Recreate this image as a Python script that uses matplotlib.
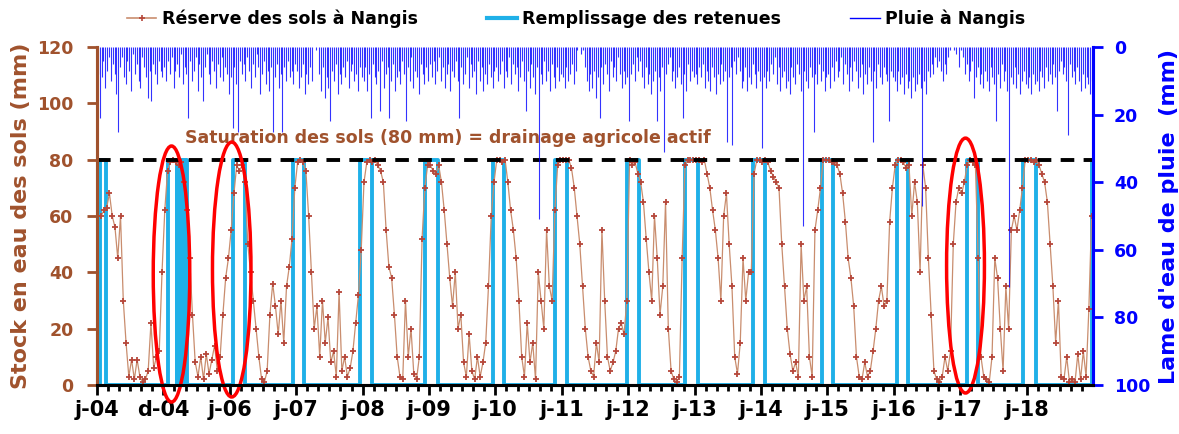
import numpy as np
import matplotlib
matplotlib.use('Agg')
import matplotlib.pyplot as plt
from matplotlib.patches import Ellipse
from matplotlib.lines import Line2D

plt.rcParams['font.family'] = ['DejaVu Sans']
plt.rcParams['font.weight'] = 'bold'

annees = list(range(2004, 2019))
etiquettes_x = ['j-04', 'd-04', 'j-06', 'j-07', 'j-08', 'j-09', 'j-10', 'j-11',
                'j-12', 'j-13', 'j-14', 'j-15', 'j-16', 'j-17', 'j-18']

# Reserve des sols a Nangis (mm) - 2 valeurs par mois
res_2004 = [60, 60, 62, 63, 68, 60, 56, 45, 60, 30, 15, 3, 9, 2, 9, 3, 1, 2, 5, 22, 6, 10, 12, 40]
res_2005 = [62, 76, 79, 80, 79, 78, 79, 72, 62, 45, 25, 8, 3, 10, 2, 11, 4, 9, 14, 5, 10, 25, 38, 45]
res_2006 = [55, 68, 78, 76, 78, 72, 50, 40, 30, 20, 10, 2, 1, 5, 25, 36, 28, 18, 30, 15, 35, 42, 52, 70]
res_2007 = [79, 80, 79, 76, 60, 40, 20, 28, 10, 30, 15, 24, 8, 12, 3, 33, 5, 10, 3, 6, 12, 22, 32, 48]
res_2008 = [72, 79, 80, 79, 80, 78, 76, 72, 55, 42, 38, 25, 10, 3, 2, 30, 10, 20, 4, 2, 10, 52, 70, 78]
res_2009 = [78, 76, 75, 78, 72, 62, 50, 38, 28, 40, 20, 25, 8, 3, 18, 5, 2, 10, 3, 8, 15, 35, 60, 72]
res_2010 = [80, 80, 79, 80, 72, 62, 55, 45, 30, 10, 3, 22, 8, 15, 2, 40, 30, 20, 55, 35, 30, 62, 78, 80]
res_2011 = [80, 80, 80, 77, 70, 60, 50, 35, 20, 10, 5, 3, 15, 8, 55, 30, 10, 5, 8, 12, 20, 22, 18, 30]
res_2012 = [80, 78, 79, 75, 72, 65, 52, 40, 30, 60, 45, 25, 35, 65, 20, 5, 2, 1, 3, 45, 78, 80, 80, 80]
res_2013 = [80, 80, 79, 80, 75, 70, 62, 55, 45, 30, 60, 68, 50, 35, 10, 4, 15, 45, 30, 40, 40, 75, 80, 80]
res_2014 = [79, 80, 79, 76, 74, 72, 70, 50, 35, 20, 11, 5, 8, 3, 50, 30, 35, 10, 3, 55, 62, 70, 80, 80]
res_2015 = [80, 79, 79, 78, 75, 68, 58, 45, 38, 28, 10, 3, 2, 8, 3, 5, 12, 20, 30, 35, 28, 30, 58, 70]
res_2016 = [78, 80, 80, 79, 77, 78, 60, 72, 65, 40, 78, 70, 45, 25, 5, 2, 1, 3, 10, 5, 12, 50, 65, 70]
res_2017 = [68, 72, 78, 80, 79, 78, 45, 10, 3, 2, 1, 10, 45, 38, 20, 5, 35, 20, 55, 60, 55, 62, 70, 80]
res_2018 = [80, 80, 79, 80, 78, 75, 72, 65, 50, 35, 15, 30, 3, 2, 10, 1, 2, 1, 11, 2, 12, 3, 27, 60]

# Pluie a Nangis (mm) - par decade
pluie_2004 = [8, 21, 9, 4, 12, 7, 3, 10, 5, 8, 14, 25, 6, 3, 9, 11, 4, 7, 13, 2, 8, 5, 10, 12, 3, 6, 9, 15, 7, 16, 5, 8, 11, 4, 7, 9]
pluie_2005 = [6, 10, 4, 8, 3, 12, 7, 5, 9, 2, 11, 6, 8, 21, 4, 10, 7, 3, 13, 5, 9, 16, 6, 2, 8, 11, 4, 7, 12, 5, 9, 3, 10, 6, 8, 14]
pluie_2006 = [9, 24, 6, 11, 25, 4, 8, 5, 10, 3, 7, 12, 5, 9, 2, 6, 14, 8, 4, 11, 7, 13, 6, 25, 9, 5, 12, 8, 25, 6, 10, 4, 9, 7, 11, 5]
pluie_2007 = [7, 12, 9, 5, 14, 8, 11, 6, 10, 0, 1, 0, 8, 13, 6, 15, 9, 12, 22, 7, 10, 5, 14, 8, 11, 6, 9, 4, 12, 7, 5, 10, 8, 13, 6, 9]
pluie_2008 = [10, 6, 13, 8, 21, 5, 9, 11, 7, 19, 4, 12, 8, 6, 21, 10, 5, 13, 9, 7, 11, 4, 8, 22, 6, 10, 3, 12, 7, 9, 14, 5, 8, 11, 6, 10]
pluie_2009 = [5, 9, 4, 11, 7, 3, 10, 6, 12, 8, 5, 13, 7, 9, 4, 10, 21, 6, 11, 8, 3, 12, 5, 9, 7, 14, 4, 10, 6, 13, 8, 11, 5, 9, 12, 7]
pluie_2010 = [6, 10, 8, 4, 12, 7, 9, 3, 11, 5, 8, 6, 13, 9, 4, 10, 19, 7, 12, 5, 9, 14, 6, 51, 8, 11, 4, 10, 7, 13, 5, 9, 12, 6, 10, 8]
pluie_2011 = [9, 12, 6, 10, 8, 5, 11, 7, 1, 0, 2, 1, 6, 10, 13, 8, 12, 7, 15, 9, 21, 6, 11, 5, 8, 13, 4, 9, 6, 10, 3, 8, 12, 7, 11, 9]
pluie_2012 = [22, 8, 5, 10, 3, 7, 4, 9, 12, 6, 11, 8, 14, 10, 7, 22, 9, 13, 6, 31, 8, 5, 3, 10, 7, 12, 9, 6, 11, 21, 8, 13, 5, 10, 7, 9]
pluie_2013 = [8, 11, 6, 9, 5, 12, 7, 10, 13, 6, 9, 14, 8, 11, 5, 10, 7, 28, 9, 6, 29, 4, 8, 3, 7, 12, 10, 6, 13, 9, 11, 5, 8, 12, 7, 10]
pluie_2014 = [30, 9, 12, 7, 10, 5, 8, 3, 11, 6, 13, 9, 7, 12, 10, 14, 6, 9, 11, 5, 8, 13, 53, 7, 10, 12, 6, 9, 25, 8, 11, 5, 10, 7, 13, 9]
pluie_2015 = [8, 12, 6, 10, 4, 9, 7, 3, 11, 5, 8, 13, 6, 10, 4, 7, 12, 9, 5, 14, 8, 11, 6, 10, 28, 7, 12, 5, 9, 11, 6, 8, 10, 22, 7, 9]
pluie_2016 = [10, 13, 7, 11, 9, 14, 8, 12, 10, 15, 9, 13, 11, 8, 12, 47, 10, 14, 7, 9, 5, 8, 3, 6, 4, 7, 10, 5, 8, 3, 1, 0, 1, 2, 0, 6]
pluie_2017 = [1, 3, 8, 5, 10, 7, 4, 15, 9, 6, 11, 8, 12, 7, 10, 13, 6, 9, 11, 22, 8, 12, 5, 10, 7, 13, 71, 9, 11, 6, 12, 8, 14, 10, 7, 11]
pluie_2018 = [12, 9, 14, 8, 11, 10, 13, 7, 9, 12, 6, 10, 8, 11, 5, 9, 19, 7, 4, 8, 6, 10, 26, 5, 9, 7, 11, 6, 10, 13, 8, 12, 9, 11, 14, 10]

# Remplissage des retenues : periodes a 80 mm (annees decimales)
rempl_debut = [2004.04, 2005.07, 2005.21, 2005.25, 2005.29, 2005.33, 2006.05, 2006.95, 2007.96,
               2008.94, 2009.96, 2010.90, 2011.98, 2012.86, 2013.88, 2014.92, 2016.05, 2017.10,
               2017.95, 2018.985]
rempl_fin = [2004.13, 2005.20, 2005.24, 2005.28, 2005.32, 2005.36, 2006.23, 2007.12, 2008.14,
             2009.14, 2010.13, 2011.08, 2012.16, 2013.05, 2014.06, 2015.08, 2016.21, 2017.27,
             2018.14, 2019.3]
niveau_retenue = 80
saturation = 80

brun = '#a0522d'
bleu = '#0000ff'
cyan = '#1fb0e8'

reserves = [res_2004, res_2005, res_2006, res_2007, res_2008, res_2009, res_2010, res_2011,
            res_2012, res_2013, res_2014, res_2015, res_2016, res_2017, res_2018]
pluies = [pluie_2004, pluie_2005, pluie_2006, pluie_2007, pluie_2008, pluie_2009, pluie_2010,
          pluie_2011, pluie_2012, pluie_2013, pluie_2014, pluie_2015, pluie_2016, pluie_2017,
          pluie_2018]

x_res = np.concatenate([a + (np.arange(len(r)) + 0.5) / len(r) for a, r in zip(annees, reserves)])
y_res = np.concatenate([np.array(r, dtype=float) for r in reserves])
x_pl = np.concatenate([a + (np.arange(len(p)) + 0.5) / len(p) for a, p in zip(annees, pluies)])
y_pl = np.concatenate([np.array(p, dtype=float) for p in pluies])

xr, yr = [2004.0], [0]
for a, b in zip(rempl_debut, rempl_fin):
    xr += [a, a, b, b]
    yr += [0, niveau_retenue, niveau_retenue, 0]

fig = plt.figure(figsize=(11.79, 4.34), dpi=100)
ax = fig.add_axes([97/1179, 1-385/434, (1093-97)/1179, (385-47)/434])
ax2 = ax.twinx()

ax.plot(xr, yr, color=cyan, lw=2.8, zorder=2.6)
ax.plot(x_res, y_res, color='#c98d6e', lw=0.9, marker='+', ms=4.5, mew=1.3,
        mec='#b5473a', zorder=3)
ax.axhline(saturation, color='black', lw=2.8, ls=(0, (3.5, 2.4)), zorder=4)
ax2.vlines(x_pl, 0, y_pl, color=bleu, lw=0.8, alpha=0.8)

ax.text(2005.325, 85.9, 'Saturation des sols (80 mm) = drainage agricole actif',
        color=brun, fontsize=12.5, fontweight='bold', ha='left', va='baseline')

for xc, yc, w, h in [(2005.122, 39.4, 0.55, 90.9), (2006.029, 41.0, 0.58, 90.5),
                     (2017.080, 42.4, 0.57, 90.5)]:
    ax.add_patch(Ellipse((xc, yc), w, h, fill=False, ec='red', lw=2.5, clip_on=False, zorder=10))

ax.set_xlim(2004.0, 2019.0)
ax.set_ylim(0, 120)
ax2.set_ylim(100, 0)

ax.set_xticks(annees)
ax.set_xticklabels(etiquettes_x, fontsize=15, fontweight='bold')
ax.set_xticks(np.arange(2004, 2019, 1/6), minor=True)
ax.tick_params(axis='x', which='major', length=7, width=2, pad=4)
ax.tick_params(axis='x', which='minor', length=4, width=2)

ax.set_yticks(range(0, 121, 20))
ax.tick_params(axis='y', colors=brun, length=7, width=2, labelsize=12.5, pad=10)
ax2.set_yticks(range(0, 101, 20))
ax2.tick_params(axis='y', colors=bleu, length=7, width=2, labelsize=12.5, pad=8)
for lab in ax.get_yticklabels() + ax2.get_yticklabels():
    lab.set_fontweight('bold')

ax.set_ylabel('Stock en eau des sols (mm)', color=brun, fontsize=16, fontweight='bold', labelpad=4)
ax2.set_ylabel("Lame d'eau de pluie  (mm)", color=bleu, fontsize=16, fontweight='bold', labelpad=6)

for a in (ax, ax2):
    a.spines['top'].set_visible(False)
    a.spines['left'].set_color(brun)
    a.spines['right'].set_color(bleu)
    a.spines['bottom'].set_color('black')
    for s in a.spines.values():
        s.set_linewidth(2.2)

handles = [Line2D([], [], color='#c98d6e', lw=1.2, marker='+', ms=5, mew=1.2, mec='#b5473a'),
           Line2D([], [], color=cyan, lw=3),
           Line2D([], [], color=bleu, lw=1)]
fig.legend(handles, ['Réserve des sols à Nangis', 'Remplissage des retenues', 'Pluie à Nangis'],
           loc='center', bbox_to_anchor=(0.4886, 0.957), ncol=3, frameon=False,
           prop={'size': 12.5, 'weight': 'bold'}, handlelength=1.7, handletextpad=0.3,
           columnspacing=4.0)

fig.savefig('out.png', dpi=100)
